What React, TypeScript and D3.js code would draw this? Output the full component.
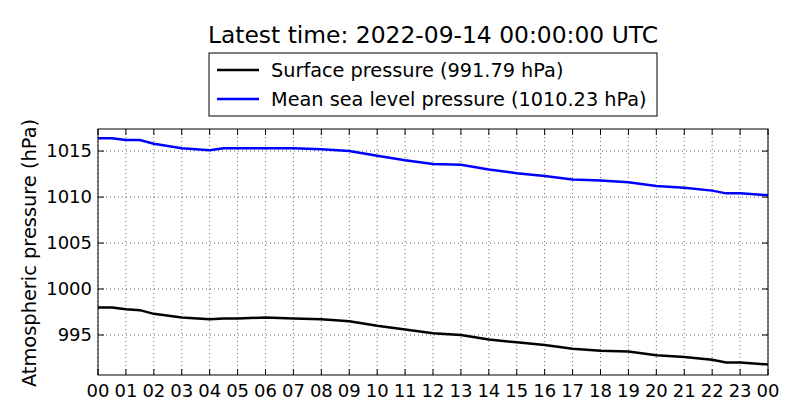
import React, { useEffect, useRef } from 'react';
import * as d3 from 'd3';

const hours = [0, 0.5, 1, 1.5, 2, 3, 4, 4.5, 5, 6, 7, 8, 9, 10, 11, 12, 13, 14, 15, 16, 17, 18, 19, 20, 21, 22, 22.5, 23, 24];
const mslp = [1016.4, 1016.4, 1016.2, 1016.2, 1015.8, 1015.3, 1015.1, 1015.3, 1015.3, 1015.3, 1015.3, 1015.2, 1015.0, 1014.5, 1014.0, 1013.6, 1013.5, 1013.0, 1012.6, 1012.3, 1011.9, 1011.8, 1011.6, 1011.2, 1011.0, 1010.7, 1010.4, 1010.4, 1010.2];
const surface = [998.0, 998.0, 997.8, 997.7, 997.3, 996.9, 996.7, 996.8, 996.8, 996.9, 996.8, 996.7, 996.5, 996.0, 995.6, 995.2, 995.0, 994.5, 994.2, 993.9, 993.5, 993.3, 993.2, 992.8, 992.6, 992.3, 992.0, 992.0, 991.8];
const yTicks = [995, 1000, 1005, 1010, 1015];
const xTicks = d3.range(0, 25);
const legendLabels = ['Surface pressure (991.79 hPa)', 'Mean sea level pressure (1010.23 hPa)'];
const seriesColors = ['#000000', '#0000ff'];

export default function App() {
    const svgRef = useRef<SVGSVGElement>(null);

    useEffect(() => {
        if (!svgRef.current) return;
        const width = 800, height = 420;
        const margin = { top: 129, right: 32, bottom: 45, left: 98 };
        const innerWidth = width - margin.left - margin.right;
        const innerHeight = height - margin.top - margin.bottom;
        const font = 'DejaVu Sans, sans-serif';

        const svg = d3.select(svgRef.current);
        svg.selectAll('*').remove();

        svg.append('text')
            .attr('x', 433).attr('y', 43)
            .attr('text-anchor', 'middle')
            .attr('font-family', font).attr('font-size', 23.4)
            .text('Latest time: 2022-09-14 00:00:00 UTC');

        const g = svg.append('g').attr('transform', `translate(${margin.left},${margin.top})`);

        const x = d3.scaleLinear().domain([0, 24]).range([0, innerWidth]);
        const y = d3.scaleLinear().domain([990.65, 1017.4]).range([innerHeight, 0]);

        // grid
        g.selectAll('.gx').data(xTicks).enter().append('line')
            .attr('x1', d => x(d)).attr('x2', d => x(d)).attr('y1', 0).attr('y2', innerHeight)
            .attr('stroke', '#000').attr('stroke-width', 0.6).attr('stroke-dasharray', '1,3');
        g.selectAll('.gy').data(yTicks).enter().append('line')
            .attr('x1', 0).attr('x2', innerWidth).attr('y1', d => y(d)).attr('y2', d => y(d))
            .attr('stroke', '#000').attr('stroke-width', 0.6).attr('stroke-dasharray', '1,3');

        const line = d3.line<number>().x((_, i) => x(hours[i])).y(d => y(d));
        [surface, mslp].forEach((s, i) => {
            g.append('path').datum(s)
                .attr('fill', 'none').attr('stroke', seriesColors[i]).attr('stroke-width', 2.5)
                .attr('d', line);
        });

        // inward ticks on all sides
        const tl = 6;
        xTicks.forEach(t => {
            g.append('line').attr('x1', x(t)).attr('x2', x(t)).attr('y1', innerHeight).attr('y2', innerHeight - tl).attr('stroke', '#000');
            g.append('line').attr('x1', x(t)).attr('x2', x(t)).attr('y1', 0).attr('y2', tl).attr('stroke', '#000');
            g.append('text').attr('x', x(t)).attr('y', innerHeight + 22)
                .attr('text-anchor', 'middle').attr('font-family', font).attr('font-size', 18)
                .text(d3.format('02d')(t % 24));
        });
        yTicks.forEach(t => {
            g.append('line').attr('x1', 0).attr('x2', tl).attr('y1', y(t)).attr('y2', y(t)).attr('stroke', '#000');
            g.append('line').attr('x1', innerWidth).attr('x2', innerWidth - tl).attr('y1', y(t)).attr('y2', y(t)).attr('stroke', '#000');
            g.append('text').attr('x', -6).attr('y', y(t)).attr('dy', '0.35em')
                .attr('text-anchor', 'end').attr('font-family', font).attr('font-size', 18)
                .text(t);
        });

        g.append('rect').attr('width', innerWidth).attr('height', innerHeight)
            .attr('fill', 'none').attr('stroke', '#000').attr('stroke-width', 1);

        svg.append('text')
            .attr('transform', `translate(36,${margin.top + innerHeight / 2 + 1}) rotate(-90)`)
            .attr('text-anchor', 'middle').attr('font-family', font).attr('font-size', 19.4)
            .text('Atmospheric pressure (hPa)');

        // legend
        const lg = svg.append('g').attr('transform', 'translate(209,53)');
        lg.append('rect').attr('width', 448).attr('height', 63)
            .attr('fill', '#fff').attr('stroke', '#000').attr('stroke-width', 1);
        legendLabels.forEach((lab, i) => {
            const ly = 17 + i * 29;
            lg.append('line').attr('x1', 8).attr('x2', 50).attr('y1', ly).attr('y2', ly)
                .attr('stroke', seriesColors[i]).attr('stroke-width', 2.5);
            lg.append('text').attr('x', 62).attr('y', ly).attr('dy', '0.35em')
                .attr('font-family', font).attr('font-size', 19.3).text(lab);
        });
    }, []);

    return (
        <svg ref={svgRef} width={800} height={420}
            style={{ position: 'absolute', left: 0, top: 0, background: '#fff' }} />
    );
}
